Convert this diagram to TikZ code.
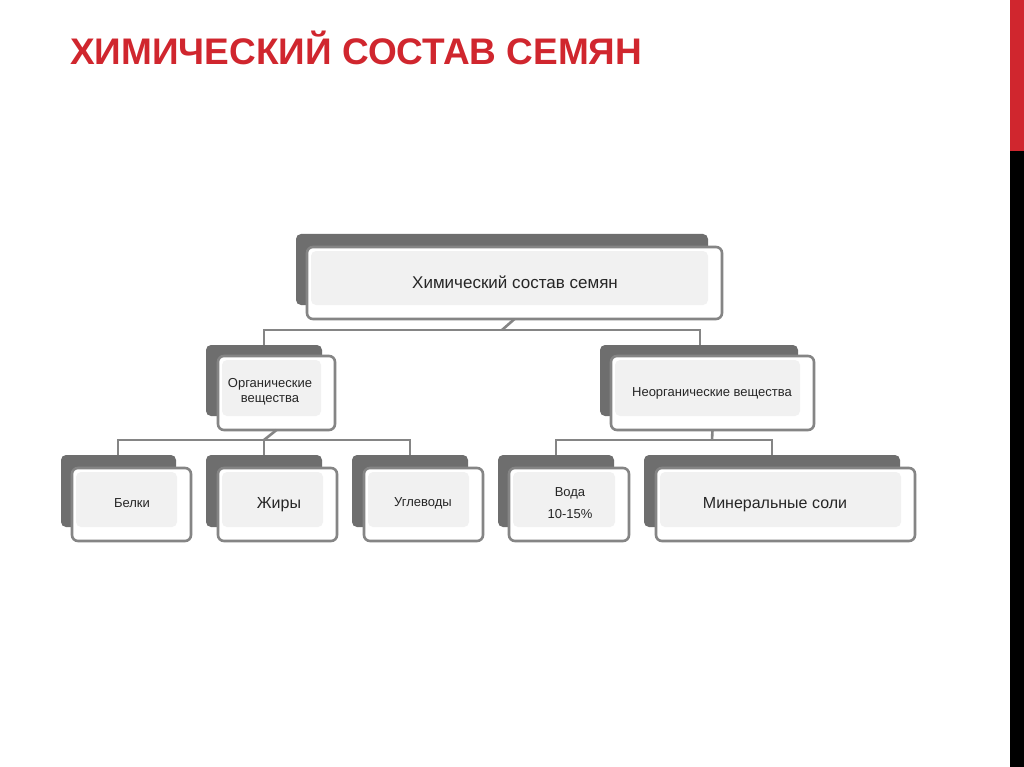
\documentclass[tikz,border=0pt]{standalone}
\usepackage{fontspec}
\setmainfont{Liberation Sans}
\definecolor{tred}{HTML}{D0262E}
\definecolor{backg}{HTML}{6E6E6E}
\definecolor{edge}{HTML}{858585}
\definecolor{inner}{HTML}{F1F1F1}
\begin{document}
\begin{tikzpicture}[x=1pt,y=-1pt,
  backbox/.style={fill=backg,rounded corners=5pt},
  frontbox/.style={draw=edge,line width=2.6pt,fill=white,rounded corners=6pt},
  innerbox/.style={fill=inner,rounded corners=5pt},
  conn/.style={draw=edge,line width=2.6pt},
  lbl/.style={align=center,text=black!85,font=\fontsize{13}{15}\selectfont}]
\useasboundingbox (0,0) rectangle (1024,767);
\fill[white] (0,0) rectangle (1024,767);
\fill[tred] (1010,0) rectangle (1024,151);
\fill[black] (1010,151) rectangle (1024,767);
\node[anchor=base west,text=tred,font=\fontsize{37}{40}\selectfont\bfseries,inner sep=0] (title) at (70,65) {ХИМИЧЕСКИЙ СОСТАВ СЕМЯН};
% box macro: back x1,y1,x2,y2 ; front x1,y1,x2,y2
\newcommand\mybox[9]{%
  \fill[backbox] (#2,#3) rectangle (#4,#5);
  \draw[frontbox] (#6,#7) rectangle (#8,#9);
  \fill[innerbox] (#6+4,#7+4) rectangle (#8-14,#9-14);
  \coordinate (#1) at ({(#6+#8)/2},{(#7+#9)/2});
  \coordinate (#1-t) at ({(#6+#8)/2},#7);
  \coordinate (#1-b) at ({(#6+#8)/2},#9);}
\mybox{top}{296}{234}{708}{305}{307}{247}{722}{319}
\mybox{org}{206}{345}{322}{416}{218}{356}{335}{430}
\mybox{inorg}{600}{345}{798}{416}{611}{356}{814}{430}
\mybox{belki}{61}{455}{176}{527}{72}{468}{191}{541}
\mybox{zhir}{206}{455}{322}{527}{218}{468}{337}{541}
\mybox{ugl}{352}{455}{468}{527}{364}{468}{483}{541}
\mybox{voda}{498}{455}{614}{527}{509}{468}{629}{541}
\mybox{min}{644}{455}{900}{527}{656}{468}{915}{541}
\node[lbl,font=\fontsize{17}{20}\selectfont] (ttop) at (515,282) {Химический состав семян};
\node[lbl] (torg) at (270,392) {Органические\\вещества};
\node[lbl] (tinorg) at (712,393) {Неорганические вещества};
\node[lbl] (tbelki) at (132,503) {Белки};
\node[lbl,font=\fontsize{16}{19}\selectfont] (tzhir) at (279,505) {Жиры};
\node[lbl] (tugl) at (423,503) {Углеводы};
\node[lbl,align=center,font=\fontsize{13}{22}\selectfont] (tvoda) at (570,503) {Вода\\10-15\%};
\node[lbl,font=\fontsize{16}{19}\selectfont] (tmin) at (775,505) {Минеральные соли};
% connectors
\draw[conn] (top-b) -- (502,330);
\draw[conn] (264,345) -- (264,330) -- (700,330) -- (700,345);
\draw[conn] (org-b) -- (264,440);
\draw[conn] (118,455) -- (118,440) -- (410,440) -- (410,455);
\draw[conn] (264,440) -- (264,455);
\draw[conn] (inorg-b) -- (712,440);
\draw[conn] (556,455) -- (556,440) -- (772,440) -- (772,455);
\end{tikzpicture}
\end{document}
